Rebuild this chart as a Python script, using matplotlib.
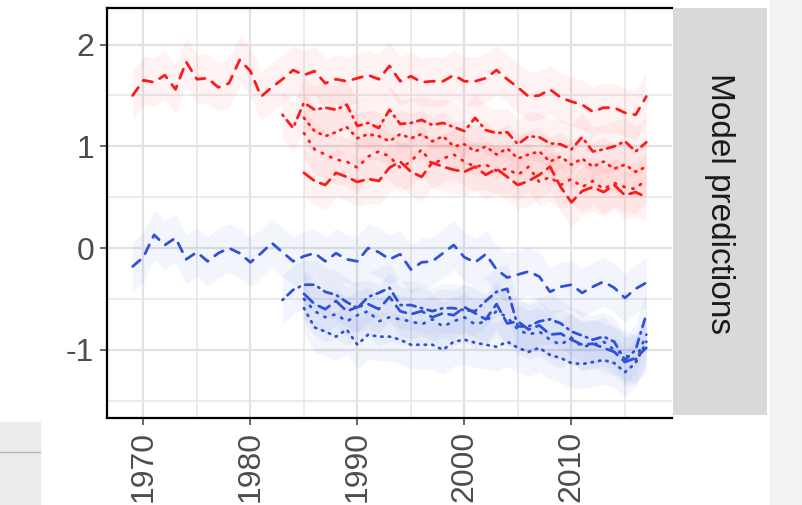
import matplotlib
matplotlib.use('Agg')
import matplotlib.pyplot as plt
from matplotlib.patches import Rectangle
import numpy as np

plt.rcParams['font.family'] = ['Liberation Sans', 'DejaVu Sans']

years_long = list(range(1969, 2018))
years_mid = list(range(1983, 2018))
years_short = list(range(1985, 2018))

red_long = [1.50, 1.65, 1.63, 1.70, 1.56, 1.83, 1.66, 1.67, 1.58, 1.62,
            1.85, 1.74, 1.49, 1.58, 1.66, 1.75, 1.70, 1.74, 1.62, 1.66,
            1.64, 1.67, 1.70, 1.66, 1.79, 1.64, 1.69, 1.63, 1.64, 1.64,
            1.70, 1.64, 1.64, 1.67, 1.75, 1.66, 1.58, 1.49, 1.50, 1.56,
            1.48, 1.44, 1.41, 1.34, 1.38, 1.38, 1.33, 1.31, 1.49]
red_a = [1.31, 1.18, 1.43, 1.36, 1.38, 1.36, 1.41, 1.20, 1.23, 1.18,
         1.36, 1.22, 1.23, 1.26, 1.21, 1.23, 1.19, 1.15, 1.28, 1.16,
         1.13, 1.14, 1.02, 1.10, 1.09, 1.03, 1.02, 0.97, 1.09, 0.95,
         0.97, 1.00, 1.05, 0.95, 1.04]
red_b = [1.28, 1.15, 1.10, 1.14, 1.19, 1.08, 1.12, 1.10, 1.05, 1.12,
         1.08, 1.12, 1.05, 1.10, 1.00, 1.02, 0.95, 1.00, 0.92, 0.98,
         0.88, 0.92, 0.95, 0.85, 0.90, 0.82, 0.88, 0.80, 0.85, 0.78,
         0.82, 0.75, 0.80]
red_c = [1.13, 0.97, 0.92, 0.87, 0.85, 0.79, 0.90, 0.95, 0.90, 0.79,
         0.85, 0.97, 0.82, 0.88, 0.92, 0.85, 0.80, 0.82, 0.76, 0.78,
         0.72, 0.80, 0.65, 0.70, 0.62, 0.68, 0.60, 0.66, 0.58, 0.64,
         0.60, 0.58, 0.68]
red_d = [0.74, 0.66, 0.62, 0.74, 0.70, 0.65, 0.68, 0.66, 0.79, 0.85,
         0.75, 0.70, 0.84, 0.80, 0.77, 0.75, 0.80, 0.72, 0.78, 0.70,
         0.62, 0.66, 0.72, 0.80, 0.60, 0.45, 0.56, 0.60, 0.55, 0.62,
         0.52, 0.55, 0.50]

blue_long = [-0.18, -0.09, 0.13, 0.03, 0.10, -0.11, -0.04, -0.13, -0.05, 0.00,
             -0.05, -0.14, -0.05, 0.05, -0.04, -0.13, -0.08, -0.05, -0.13, -0.05,
             -0.11, -0.13, 0.00, -0.04, -0.11, -0.06, -0.21, -0.14, -0.13, -0.05,
             0.03, -0.09, -0.14, -0.06, -0.21, -0.29, -0.26, -0.23, -0.28, -0.43,
             -0.38, -0.36, -0.44, -0.38, -0.33, -0.39, -0.49, -0.40, -0.34]
blue_a = [-0.51, -0.41, -0.36, -0.36, -0.43, -0.46, -0.53, -0.59, -0.48, -0.44,
          -0.39, -0.56, -0.56, -0.59, -0.62, -0.59, -0.59, -0.61, -0.62, -0.52,
          -0.43, -0.40, -0.77, -0.77, -0.72, -0.70, -0.74, -0.82, -0.86, -0.90,
          -0.87, -0.92, -1.10, -1.00, -0.65]
blue_b = [-0.59, -0.78, -0.82, -0.87, -0.80, -0.95, -0.85, -0.87, -0.87, -0.90,
          -0.95, -0.95, -0.95, -1.00, -0.92, -0.90, -0.93, -0.95, -0.97, -0.92,
          -0.98, -1.02, -0.98, -1.05, -1.08, -1.13, -1.14, -1.12, -1.10, -1.13,
          -1.22, -1.13, -0.92]
blue_c = [-0.50, -0.62, -0.68, -0.65, -0.72, -0.66, -0.62, -0.72, -0.68, -0.70,
          -0.72, -0.75, -0.70, -0.77, -0.72, -0.68, -0.75, -0.72, -0.62, -0.68,
          -0.80, -0.85, -0.82, -0.90, -0.95, -0.88, -0.97, -0.95, -0.92, -1.00,
          -1.05, -1.10, -0.85]
blue_d = [-0.45, -0.55, -0.60, -0.52, -0.62, -0.58, -0.55, -0.60, -0.48, -0.62,
          -0.65, -0.62, -0.68, -0.64, -0.66, -0.58, -0.64, -0.70, -0.55, -0.74,
          -0.72, -0.80, -0.76, -0.85, -0.84, -0.90, -0.95, -0.94, -0.98, -1.02,
          -1.12, -1.08, -0.98]

band = 0.24
red = '#ff1a1a'
blue = '#2f52d6'

styles = {
    'long': (0, (3.5, 3)),
    'a': (0, (0.5, 2, 3, 2)),
    'b': (0, (0.5, 2.2)),
    'c': (0, (0.5, 2.8)),
    'd': (0, (4.5, 2.5)),
}

series = [
    (years_long, red_long, red, 'long'),
    (years_mid, red_a, red, 'a'),
    (years_short, red_b, red, 'b'),
    (years_short, red_c, red, 'c'),
    (years_short, red_d, red, 'd'),
    (years_long, blue_long, blue, 'long'),
    (years_mid, blue_a, blue, 'a'),
    (years_short, blue_b, blue, 'b'),
    (years_short, blue_c, blue, 'c'),
    (years_short, blue_d, blue, 'd'),
]

fig = plt.figure(figsize=(8.02, 5.05), dpi=100)

# background bits from the screenshot
fig.patches.append(Rectangle((770 / 802, 0), 32 / 802, 1, transform=fig.transFigure,
                             color='#f2f2f2', zorder=0))
fig.patches.append(Rectangle((0, 0), 40 / 802, 83 / 505, transform=fig.transFigure,
                             color='#ececec', zorder=0))
fig.lines.append(plt.Line2D([0, 40 / 802], [53 / 505, 53 / 505], transform=fig.transFigure,
                            color='#b5b5b5', lw=1))

ax = fig.add_axes([107 / 802, 1 - 418 / 505, 565 / 802, 410 / 505])

for x, y, c, s in series:
    y = np.array(y)
    ax.fill_between(x, y - band, y + band, color=c, alpha=0.055, lw=0)
for x, y, c, s in series:
    ax.plot(x, y, color=c, lw=2.0, linestyle=styles[s], dash_capstyle='round')

ax.set_xlim(1966.6, 2019.4)
ax.set_ylim(-1.67, 2.36)
ax.set_xticks([1970, 1980, 1990, 2000, 2010])
ax.set_xticks([1975, 1985, 1995, 2005, 2015], minor=True)
ax.set_yticks([-1, 0, 1, 2])
ax.set_yticks([-1.5, -0.5, 0.5, 1.5], minor=True)
ax.set_yticklabels(['-1', '0', '1', '2'])
ax.grid(True, which='major', color='#e2e2e2', lw=1.6)
ax.grid(True, which='minor', color='#e8e8e8', lw=1.2)
ax.set_axisbelow(True)

for side in ['left', 'bottom', 'top']:
    ax.spines[side].set_color('black')
    ax.spines[side].set_linewidth(1.6)
ax.spines['right'].set_visible(False)

ax.tick_params(axis='both', which='major', colors='#4d4d4d',
               length=5, width=1.2, pad=4)
ax.tick_params(axis='y', labelsize=23)
ax.tick_params(axis='x', labelsize=23, labelrotation=90, pad=4)
ax.tick_params(axis='both', which='minor', length=0)
for lab in ax.get_xticklabels():
    lab.set_verticalalignment('top')

# facet strip
strip = fig.add_axes([673 / 802, 1 - 415 / 505, 94 / 802, 407 / 505])
strip.set_facecolor('#d9d9d9')
strip.set_xticks([])
strip.set_yticks([])
for sp in strip.spines.values():
    sp.set_visible(False)
strip.text(0.5, 0.52, 'Model predictions', rotation=-90, ha='center', va='center',
           fontsize=24, color='#1a1a1a', transform=strip.transAxes)

plt.savefig('out.png', dpi=100)
plt.close()
